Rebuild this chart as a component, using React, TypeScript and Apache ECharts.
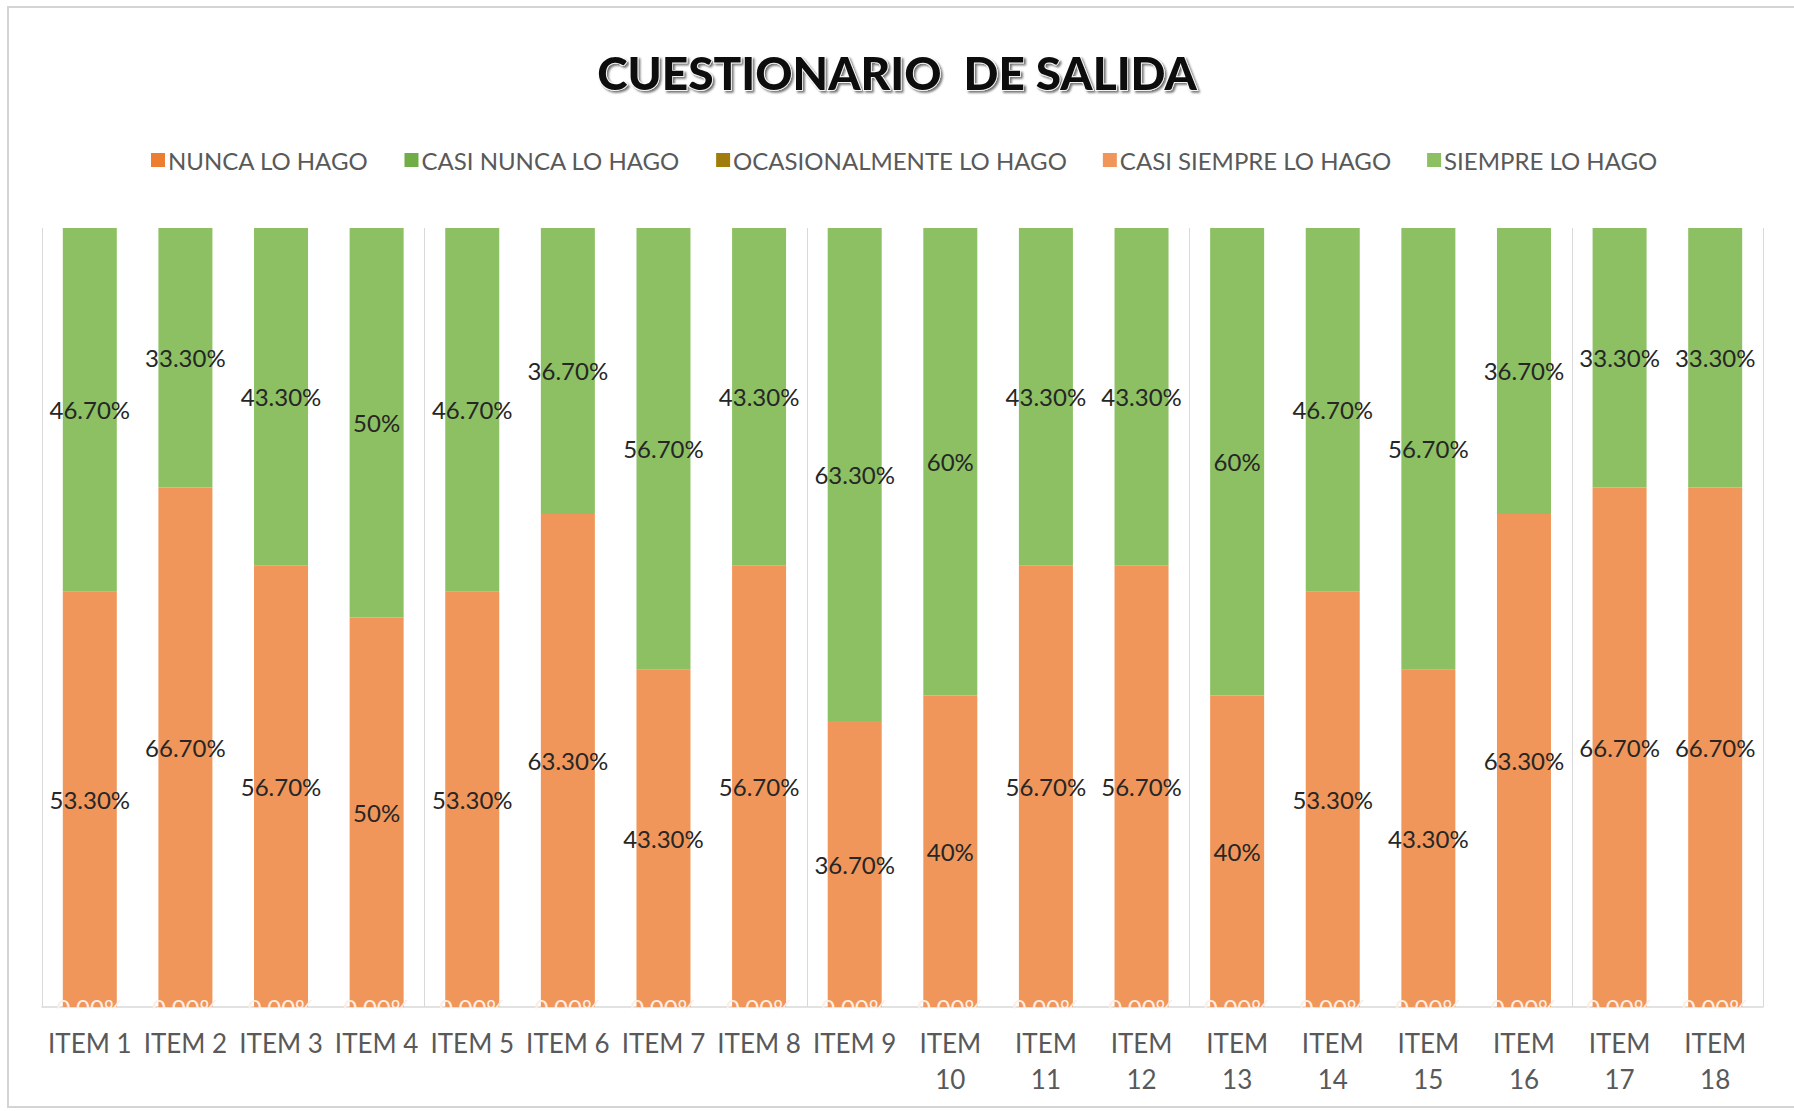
import React, { useEffect, useRef } from "react";
import * as echarts from "echarts";

const categories = [
  "ITEM 1", "ITEM 2", "ITEM 3", "ITEM 4", "ITEM 5", "ITEM 6", "ITEM 7", "ITEM 8", "ITEM 9",
  "ITEM 10", "ITEM 11", "ITEM 12", "ITEM 13", "ITEM 14", "ITEM 15", "ITEM 16", "ITEM 17", "ITEM 18",
];
const seriesNames = [
  "NUNCA LO HAGO",
  "CASI NUNCA LO HAGO",
  "OCASIONALMENTE LO HAGO",
  "CASI SIEMPRE LO HAGO",
  "SIEMPRE LO HAGO",
];
const nunca = [0, 0, 0, 0, 0, 0, 0, 0, 0, 0, 0, 0, 0, 0, 0, 0, 0, 0];
const casiNunca = [0, 0, 0, 0, 0, 0, 0, 0, 0, 0, 0, 0, 0, 0, 0, 0, 0, 0];
const ocasionalmente = [0, 0, 0, 0, 0, 0, 0, 0, 0, 0, 0, 0, 0, 0, 0, 0, 0, 0];
const casiSiempre = [53.3, 66.7, 56.7, 50, 53.3, 63.3, 43.3, 56.7, 36.7, 40, 56.7, 56.7, 40, 53.3, 43.3, 63.3, 66.7, 66.7];
const siempre = [46.7, 33.3, 43.3, 50, 46.7, 36.7, 56.7, 43.3, 63.3, 60, 43.3, 43.3, 60, 46.7, 56.7, 36.7, 33.3, 33.3];
const colors = ["#ED7D31", "#70AD47", "#A07D0A", "#F0965A", "#8CC063"];

const fmt = (v: number) => (Number.isInteger(v) ? `${v}%` : `${v.toFixed(2)}%`);

export default function App() {
  const ref = useRef<HTMLDivElement>(null);
  useEffect(() => {
    if (!ref.current) return;
    const chart = echarts.init(ref.current, null, { renderer: "svg" });
    const dataSets = [nunca, casiNunca, ocasionalmente, casiSiempre, siempre];
    const series = dataSets.map((d, i) => ({
      name: seriesNames[i],
      type: "bar",
      stack: "total",
      data: d,
      barWidth: 54,
      itemStyle: { color: colors[i] },
      label:
        i === 0
          ? {
              show: true,
              position: "inside",
              formatter: (p: any) => (p.value === 0 ? "0.00%" : fmt(p.value)),
              fontFamily: "Lato",
              fontSize: 24,
              color: "#FDEEE4",
            }
          : i >= 3
          ? {
              show: true,
              position: "inside",
              formatter: (p: any) => fmt(p.value),
              fontFamily: "Lato",
              fontSize: 24,
              color: "#262626",
            }
          : { show: false },
    }));
    chart.setOption({
      animation: false,
      backgroundColor: "#ffffff",
      title: {
        text: "CUESTIONARIO  DE SALIDA",
        left: "center",
        top: 44,
        textStyle: {
          fontFamily: "Lato",
          fontWeight: 900,
          fontSize: 46,
          color: "#111111",
          textBorderColor: "#ffffff",
          textBorderWidth: 1.5,
          textShadowColor: "rgba(0,0,0,0.55)",
          textShadowBlur: 2,
          textShadowOffsetX: 2,
          textShadowOffsetY: 2,
        },
      },
      legend: {
        data: seriesNames,
        left: 146,
        top: 143,
        itemWidth: 14,
        itemHeight: 14,
        itemGap: 36,
        icon: "rect",
        textStyle: { fontFamily: "Lato", fontSize: 24, color: "#595959", padding: [0, 0, 0, -2] },
      },
      grid: { left: 42, right: 31, top: 228, bottom: 104, containLabel: false },
      xAxis: {
        type: "category",
        data: categories,
        axisLine: { show: true, lineStyle: { color: "#D9D9D9", width: 1.5 } },
        axisTick: { show: false },
        splitLine: {
          show: true,
          interval: (idx: number) => idx % 4 === 0,
          lineStyle: { color: "#D9D9D9", width: 1 },
        },
        axisLabel: {
          interval: 0,
          margin: 18,
          fontFamily: "Lato",
          fontSize: 26,
          lineHeight: 36,
          color: "#595959",
          formatter: (v: string) => {
            const n = parseInt(v.split(" ")[1], 10);
            return n >= 10 ? v.replace(" ", "\n") : v;
          },
        },
      },
      yAxis: { type: "value", min: 0, max: 100, show: false, splitLine: { show: false } },
      graphic: [
        {
          type: "rect",
          z: 100,
          shape: { x: 43, y: 1008.5, width: 1720, height: 14 },
          style: { fill: "#ffffff" },
        },
        {
          type: "rect",
          z: 101,
          shape: { x: 8, y: 7, width: 1800, height: 1100 },
          style: { fill: "none", stroke: "#D4D4D4", lineWidth: 2 },
          silent: true,
        },
      ],
      series,
    });
    return () => chart.dispose();
  }, []);
  return (
    <div
      ref={ref}
      style={{ position: "fixed", left: 0, top: 0, width: 1794, height: 1111 }}
    />
  );
}
